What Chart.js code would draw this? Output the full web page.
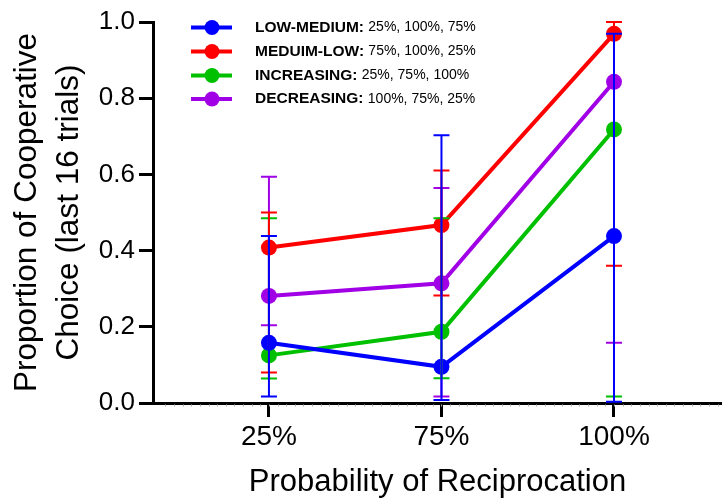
<!DOCTYPE html>
<html>
<head>
<meta charset="utf-8">
<script src="https://cdn.jsdelivr.net/npm/chart.js@4.4.1/dist/chart.umd.min.js"></script>
<style>
  body { margin: 0; background: #fff; }
  canvas { display: block; }
</style>
</head>
<body>
<canvas id="chart" width="722" height="500"></canvas>
<script>
// categories on the x axis
const categories = ["25%", "75%", "100%"];

// series means
const lowMedium = [0.158, 0.095, 0.438];
const meduimLow = [0.408, 0.467, 0.969];
const increasing = [0.125, 0.187, 0.718];
const decreasing = [0.281, 0.314, 0.843];

// error bar ends (lower / upper)
const lowMediumLo = [0.017, 0.008, 0.003];
const lowMediumHi = [0.438, 0.703, 0.969];
const meduimLowLo = [0.080, 0.282, 0.360];
const meduimLowHi = [0.500, 0.610, 1.0];
const increasingLo = [0.064, 0.065, 0.017];
const increasingHi = [0.485, 0.485, 1.0];
const decreasingLo = [0.204, 0.017, 0.158];
const decreasingHi = [0.594, 0.564, 1.0];

const yTicks = [0, 0.2, 0.4, 0.6, 0.8, 1.0];

const FONT = "'Liberation Sans', Arial, sans-serif";

function makeSet(bold, rest, colour, values, lo, hi) {
    return {
        label: bold + " " + rest,
        boldPart: bold,
        restPart: rest,
        data: values.map((v, i) => ({x: i, y: v})),
        lo: lo,
        hi: hi,
        borderColor: colour,
        backgroundColor: colour,
        pointBackgroundColor: colour,
        pointBorderWidth: 0,
        pointRadius: 8,
        borderWidth: 4,
        tension: 0
    };
}

const sets = [
    makeSet("LOW-MEDIUM:", "25%, 100%, 75%", "#0000ff", lowMedium, lowMediumLo, lowMediumHi),
    makeSet("MEDUIM-LOW:", "75%, 100%, 25%", "#ff0000", meduimLow, meduimLowLo, meduimLowHi),
    makeSet("INCREASING:", "25%, 75%, 100%", "#00c000", increasing, increasingLo, increasingHi),
    makeSet("DECREASING:", "100%, 75%, 25%", "#a100e6", decreasing, decreasingLo, decreasingHi)
];

// error bars, drawn over the points (blue last so it ends on top)
const errorBars = {
    id: "errorBars",
    afterDatasetsDraw(chart) {
        const ctx = chart.ctx;
        const xs = chart.scales.x, ys = chart.scales.y;
        const order = [3, 2, 1, 0];
        ctx.save();
        ctx.lineWidth = 2;
        order.forEach(d => {
            const ds = chart.data.datasets[d];
            ctx.strokeStyle = ds.borderColor;
            ds.data.forEach((p, i) => {
                const x = xs.getPixelForValue(p.x);
                const y1 = ys.getPixelForValue(ds.lo[i]);
                const y2 = ys.getPixelForValue(ds.hi[i]);
                ctx.beginPath();
                ctx.moveTo(x, y1); ctx.lineTo(x, y2);
                ctx.moveTo(x - 8, y1); ctx.lineTo(x + 8, y1);
                ctx.moveTo(x - 8, y2); ctx.lineTo(x + 8, y2);
                ctx.stroke();
            });
        });
        ctx.restore();
    }
};

// small grey minor ticks along the x axis plus the legend box
const extras = {
    id: "extras",
    afterDraw(chart) {
        const ctx = chart.ctx;
        const xs = chart.scales.x;
        const bottom = chart.chartArea.bottom;
        ctx.save();
        ctx.strokeStyle = "#b0b0b0";
        ctx.lineWidth = 1;
        for (let v = -0.6; v < 2.63; v += 0.05) {
            const x = Math.round(xs.getPixelForValue(v)) + 0.5;
            ctx.beginPath();
            ctx.moveTo(x, bottom + 1.5);
            ctx.lineTo(x, bottom + 3.5);
            ctx.stroke();
        }

        const rows = [27.5, 51.5, 75.5, 99];
        chart.data.datasets.forEach((ds, i) => {
            const y = rows[i];
            ctx.strokeStyle = ds.borderColor;
            ctx.lineWidth = 4;
            ctx.beginPath();
            ctx.moveTo(191, y); ctx.lineTo(232, y);
            ctx.stroke();
            ctx.fillStyle = ds.borderColor;
            ctx.beginPath();
            ctx.arc(212, y, 7.5, 0, Math.PI * 2);
            ctx.fill();

            ctx.fillStyle = "#000";
            ctx.textBaseline = "middle";
            ctx.textAlign = "left";
            ctx.font = "bold 15.5px " + FONT;
            ctx.fillText(ds.boldPart, 255, y);
            const w = ctx.measureText(ds.boldPart + " ").width;
            ctx.font = "14px " + FONT;
            ctx.fillText(ds.restPart, 255 + w, y);
        });
        ctx.restore();
    }
};

new Chart(document.getElementById("chart"), {
    type: "line",
    data: { datasets: sets },
    options: {
        responsive: false,
        animation: false,
        layout: { autoPadding: false, padding: { top: 22, right: 0, left: 0, bottom: 0 } },
        plugins: {
            legend: { display: false },
            tooltip: { enabled: false }
        },
        scales: {
            x: {
                type: "linear",
                min: -0.672,
                max: 2.626,
                afterBuildTicks: s => { s.ticks = categories.map((c, i) => ({value: i})); },
                afterFit: s => { s.height = 97; s.paddingLeft = 0; s.paddingRight = 0; },
                ticks: {
                    callback: (v, i) => categories[i],
                    color: "#000",
                    font: { family: FONT, size: 28 },
                    padding: 3,
                    maxRotation: 0
                },
                grid: { drawOnChartArea: false, drawTicks: true, tickLength: 14, tickWidth: 3, tickColor: "#000" },
                border: { color: "#000", width: 3 },
                title: {
                    display: true,
                    text: "Probability of Reciprocation",
                    color: "#000",
                    font: { family: FONT, size: 31, lineHeight: 1.15 },
                    padding: { top: 0, bottom: 0 }
                }
            },
            y: {
                min: 0,
                max: 1,
                afterBuildTicks: s => { s.ticks = yTicks.map(v => ({value: v})); },
                afterFit: s => { s.width = 153; },
                ticks: {
                    callback: v => v.toFixed(1),
                    color: "#000",
                    font: { family: FONT, size: 26 },
                    padding: 4
                },
                grid: { drawOnChartArea: false, drawTicks: true, tickLength: 14, tickWidth: 3, tickColor: "#000" },
                border: { color: "#000", width: 3 },
                title: {
                    display: true,
                    text: ["Proportion of Cooperative", "Choice (last 16 trials)"],
                    color: "#000",
                    font: { family: FONT, size: 31.5, lineHeight: 1.32 },
                    padding: { top: 7, bottom: 0 }
                }
            }
        }
    },
    plugins: [errorBars, extras]
});
</script>
</body>
</html>
